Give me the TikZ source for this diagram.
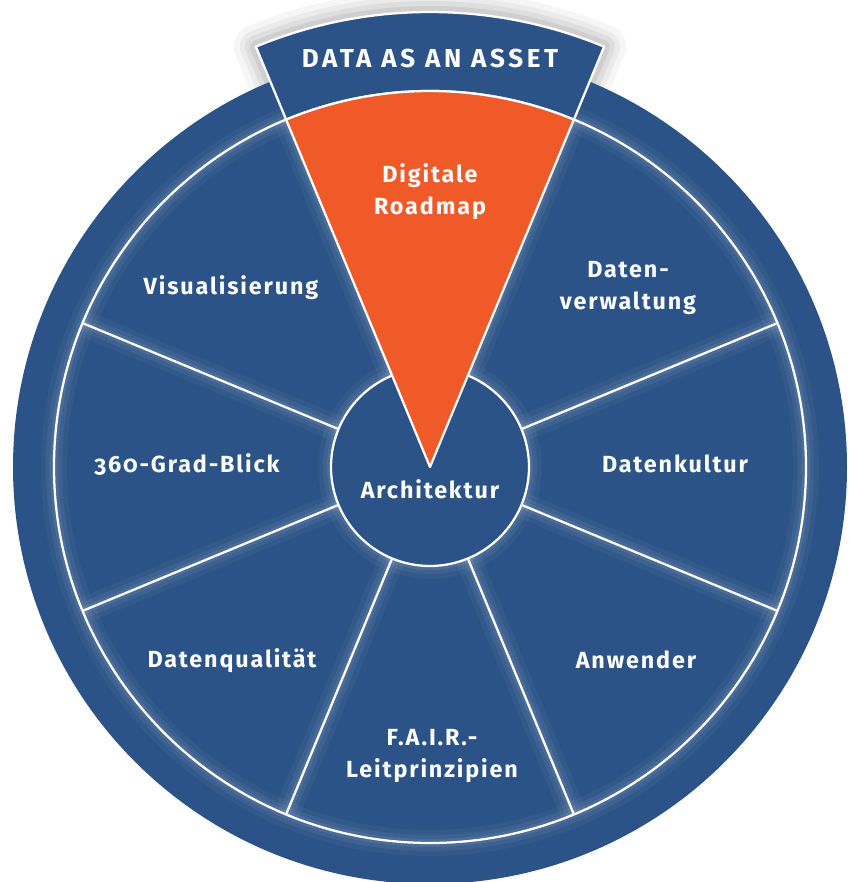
\documentclass[tikz,border=0pt]{standalone}
\usepackage{fontspec}
\setmainfont{Fira Sans}[Numbers=OldStyle]
\usetikzlibrary{calc}
\definecolor{wblue}{RGB}{43,83,135}
\definecolor{worange}{RGB}{240,90,40}
\begin{document}
\begin{tikzpicture}[x=0.75pt,y=0.75pt,
  seg/.style={text=white,font=\bfseries\fontsize{17.5}{24}\selectfont\addfontfeature{LetterSpace=8},align=center},
  tabtext/.style={text=white,font=\bfseries\fontsize{19.5}{24}\selectfont\addfontfeature{LetterSpace=14}},
  wline/.style={white,line width=1.7pt,line join=round},
  ]
\useasboundingbox (0,0) rectangle (849,882);
\coordinate (C) at (430,415);
% shadow of the tab
\foreach \w/\o in {44/0.035,32/0.045,22/0.055,12/0.065}{
  \draw[black,opacity=\o,line width=\w*0.75pt,line join=round]
    ([shift={(C)}]67.5:376) -- ([shift={(C)}]67.5:455)
    arc[start angle=67.5,end angle=112.5,radius=455] -- ([shift={(C)}]112.5:376);
}
% main disc
\fill[wblue] (C) circle (417);
% glows
\begin{scope}
  \clip (C) circle (417);
  \foreach \w/\o in {26/0.04,16/0.05,8/0.07}{
    \foreach \a in {22.5,67.5,...,337.5}{
      \draw[white,opacity=\o,line width=\w*0.75pt] ([shift={(C)}]\a:99) -- ([shift={(C)}]\a:376);
    }
    \draw[white,opacity=\o,line width=\w*0.75pt] (C) circle (376);
    \draw[white,opacity=\o,line width=\w*0.75pt] (C) circle (99);
  }
\end{scope}
% ring line and spokes
\draw[wline] (C) circle (376);
\foreach \a in {22.5,157.5,202.5,247.5,292.5,337.5}{
  \draw[wline] ([shift={(C)}]\a:99) -- ([shift={(C)}]\a:376);
}
% centre disc
\fill[wblue] (C) circle (99);
\draw[wline] (C) circle (99);
% tab
\draw[wline,fill=wblue]
  ([shift={(C)}]67.5:376) -- ([shift={(C)}]67.5:455)
  arc[start angle=67.5,end angle=112.5,radius=455]
  -- ([shift={(C)}]112.5:376)
  arc[start angle=112.5,end angle=67.5,radius=376] -- cycle;
% orange wedge
\draw[wline,fill=worange]
  (C) -- ([shift={(C)}]67.5:376)
  arc[start angle=67.5,end angle=112.5,radius=376] -- cycle;
% labels
\node[tabtext] (tab) at (430,824) {DATA AS AN ASSET};
\node[seg] (roadmap) at (430,690) {Digitale\\Roadmap};
\node[seg] (verw) at (628,594) {Daten-\\verwaltung};
\node[seg] (kultur) at (675,418) {Datenkultur};
\node[seg] (anw) at (636,222) {Anwender};
\node[seg] (fair) at (432,126) {F.A.I.R.-\\Leitprinzipien};
\node[seg] (qual) at (232,221) {Datenqualität};
\node[seg] (blick) at (187,418) {360-Grad-Blick};
\node[seg] (vis) at (231,594) {Visualisierung};
\node[seg] (arch) at (430,393) {Architektur};
\end{tikzpicture}
\end{document}
